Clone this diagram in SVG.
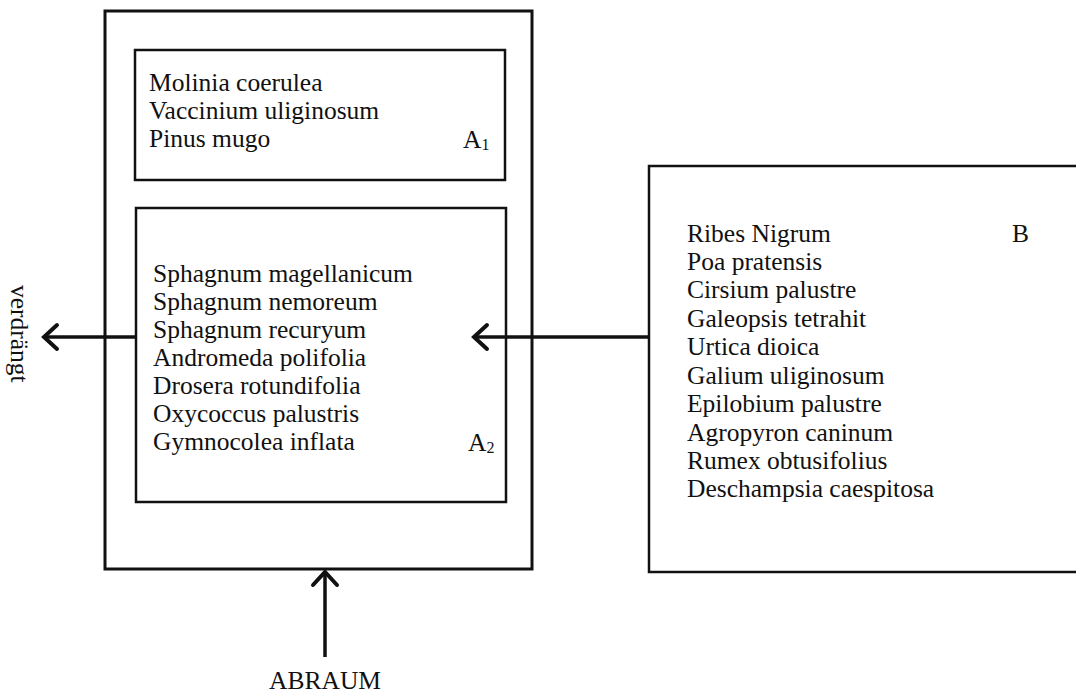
<svg xmlns="http://www.w3.org/2000/svg" width="1076" height="693" viewBox="0 0 1076 693">
<style>
text{font-family:"Liberation Serif","Times New Roman",serif;font-size:25.5px;fill:#111}
.sub{font-size:16px}
.box{fill:none;stroke:#111;stroke-width:2.5}
.outer{fill:none;stroke:#111;stroke-width:3}
.conn{fill:none;stroke:#111;stroke-width:3.5}
.head{fill:none;stroke:#111;stroke-width:4;stroke-linecap:round;stroke-linejoin:miter}
</style>
<rect width="1076" height="693" fill="#fff"/>
<g id="outer">
<rect class="outer" x="105" y="11" width="427" height="558"/>
</g>
<g id="A1">
<rect class="box" x="135" y="50" width="370" height="130"/>
<text x="149" y="91">Molinia coerulea</text>
<text x="149" y="119">Vaccinium uliginosum</text>
<text x="149" y="147">Pinus mugo</text>
<text x="463" y="148">A<tspan class="sub" dy="2">1</tspan></text>
</g>
<g id="A2">
<rect class="box" x="136" y="208" width="370" height="294"/>
<text x="153" y="282">Sphagnum magellanicum</text>
<text x="153" y="310">Sphagnum nemoreum</text>
<text x="153" y="338">Sphagnum recuryum</text>
<text x="153" y="366">Andromeda polifolia</text>
<text x="153" y="394">Drosera rotundifolia</text>
<text x="153" y="422">Oxycoccus palustris</text>
<text x="153" y="450">Gymnocolea inflata</text>
<text x="468" y="451">A<tspan class="sub" dy="2">2</tspan></text>
</g>
<g id="B">
<rect class="box" x="649" y="166" width="440" height="406"/>
<text x="687" y="242">Ribes Nigrum</text>
<text x="687" y="270">Poa pratensis</text>
<text x="687" y="298">Cirsium palustre</text>
<text x="687" y="327">Galeopsis tetrahit</text>
<text x="687" y="355">Urtica dioica</text>
<text x="687" y="384">Galium uliginosum</text>
<text x="687" y="412">Epilobium palustre</text>
<text x="687" y="441">Agropyron caninum</text>
<text x="687" y="469">Rumex obtusifolius</text>
<text x="687" y="497">Deschampsia caespitosa</text>
<text x="1012" y="242">B</text>
</g>
<g id="labels">
<text transform="translate(11,285) rotate(90)">verdrängt</text>
<text x="325" y="689" text-anchor="middle">ABRAUM</text>
</g>
<g id="connectors">
<line class="conn" x1="136" y1="337" x2="44" y2="337"/>
<polyline class="head" points="57,325 44,337 57,349"/>
<line class="conn" x1="649" y1="337" x2="474" y2="337"/>
<polyline class="head" points="487,325 474,337 487,349"/>
<line class="conn" x1="325" y1="657" x2="325" y2="572"/>
<polyline class="head" points="313,585 325,572 337,585"/>
</g>
</svg>
